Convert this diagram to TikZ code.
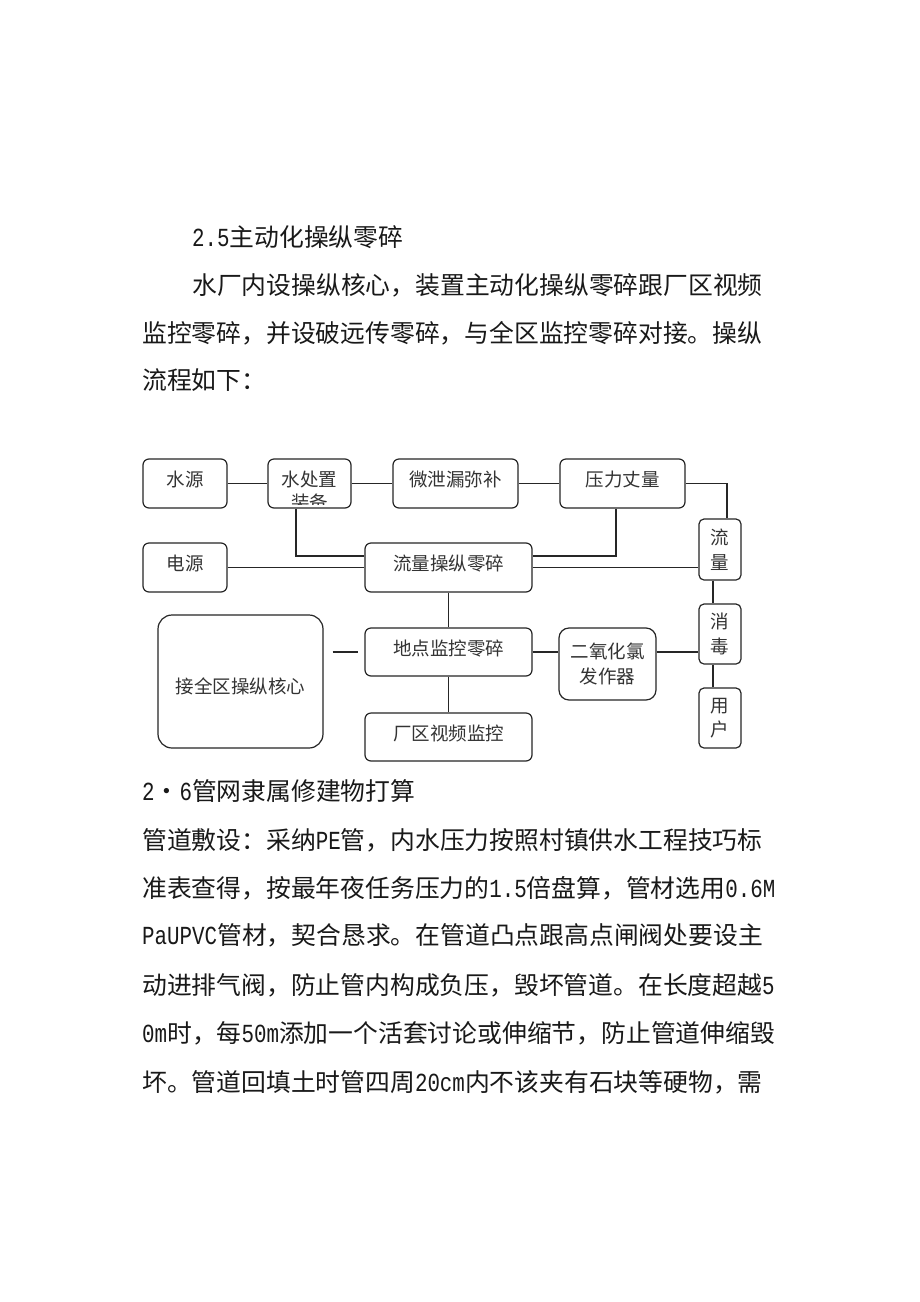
\documentclass[tikz,border=0pt]{standalone}
\usepackage{fontspec}
\setmainfont{Noto Sans CJK SC}
\newfontfamily\hwfont{Liberation Mono}[Scale=1.05,FakeStretch=0.8]
\newcommand{\hw}[1]{{\hwfont #1}}
\usetikzlibrary{positioning}

\begin{document}
\begin{tikzpicture}[x=1pt, y=-1pt,
    body/.style={anchor=base west, inner sep=0pt, font=\fontsize{24.8}{30}\selectfont, text=black!90},
    unit/.style={draw=black!85, line width=1.2pt, rounded corners=6pt, inner sep=0pt,
      font=\fontsize{18.5}{24.5}\selectfont, text=black!80, text height=13pt, text depth=7pt},
    vunit/.style={draw=black!85, line width=1.2pt, rounded corners=5pt, inner sep=0pt,
      font=\fontsize{18.5}{24.5}\selectfont, text=black!80, align=center},
    link/.style={draw=black!85, line width=1.2pt}]

  % page
  \fill[white] (0,0) rectangle (920,1302);
  \useasboundingbox (0,0) rectangle (920,1302);

  % text above
  \node[body] (t1) at (192,246.4) {\hw{2.5}主动化操纵零碎};
  \node[body] (t2) at (192,294.4) {水厂内设操纵核心，装置主动化操纵零碎跟厂区视频};
  \node[body] (t3) at (142,342.4) {监控零碎，并设破远传零碎，与全区监控零碎对接。操纵};
  \node[body] (t4) at (142,389.4) {流程如下：};

  % boxes
  \node[unit, minimum width=84, minimum height=49] (sy) at (185,483.5) {水源};
  \node[unit, minimum width=83, minimum height=49] (sz) at (309.5,483.5) {水处置};
  \node[unit, minimum width=125, minimum height=49] (wx) at (455.5,483.5) {微泄漏弥补};
  \node[unit, minimum width=125, minimum height=49] (yl) at (622.5,483.5) {压力丈量};
  \node[vunit, minimum width=42, minimum height=61] (ll) at (720,549.5) {流\\量};
  \node[unit, minimum width=84, minimum height=49] (dy) at (185,567.5) {电源};
  \node[unit, minimum width=167, minimum height=49] (lk) at (448.5,567.5) {流量操纵零碎};
  \node[unit, rounded corners=14pt, minimum width=165, minimum height=133,
    text height=26pt, text depth=3pt] (jq) at (240.5,681.5) {接全区操纵核心};
  \node[unit, minimum width=167, minimum height=48] (dd) at (448.5,652) {地点监控零碎};
  \node[unit, minimum width=167, minimum height=48] (cq) at (448.5,737) {厂区视频监控};
  \node[vunit, rounded corners=10pt, minimum width=97, minimum height=72] (eq) at (607.5,664) {二氧化氯\\发作器};
  \node[vunit, minimum width=42, minimum height=60] (xd) at (720,634) {消\\毒};
  \node[vunit, minimum width=42, minimum height=60] (yh) at (720,718) {用\\户};

  % second line of sz, cut off by the box
  \begin{scope}
    \clip ([yshift=4pt]sz.south west) rectangle (sz.north east);
    \node[inner sep=0pt, font=\fontsize{18.5}{24.5}\selectfont, text=black!80,
      text height=13pt, text depth=7pt] (szb) at ([yshift=-22.5pt]sz.center) {装备};
  \end{scope}

  % connectors
  \draw[link] (sy) -- (sz);
  \draw[link] (sz) -- (wx);
  \draw[link] (wx) -- (yl);
  \draw[link] (yl.east) -| ([xshift=7pt]ll.north);
  \draw[link] ([xshift=-13.5pt]sz.south) |- ([yshift=11.5pt]lk.west);
  \draw[link] ([xshift=-6.5pt]yl.south) |- ([yshift=11.5pt]lk.east);
  \draw[link] (dy) -- (lk);
  \draw[link] (lk.east) -- (lk.east -| ll.west);
  \draw[link] (lk) -- (dd);
  \draw[link] (dd) -- (cq);
  \draw[link] (dd.east) -- (dd.east -| eq.west);
  \draw[link] (dd.east -| eq.east) -- (dd.east -| xd.west);
  \draw[link] ([xshift=-7pt]ll.south) -- ([xshift=-7pt]xd.north);
  \draw[link] ([xshift=-7pt]xd.south) -- ([xshift=-7pt]yh.north);
  \coordinate (g1) at (dd.west -| jq.east);
  \draw[link] ([xshift=9pt]g1) -- ([xshift=-6pt]dd.west);

  % text below
  \node[body] (b1) at (142,800.4) {\hw{2}・\hw{6}管网隶属修建物打算};
  \node[body] (b2) at (142,849.4) {管道敷设：采纳\hw{PE}管，内水压力按照村镇供水工程技巧标};
  \node[body] (b3) at (142,897.4) {准表查得，按最年夜任务压力的\hw{1.5}倍盘算，管材选用\hw{0.6M}};
  \node[body] (b4) at (142,944.4) {\hw{PaUPVC}管材，契合恳求。在管道凸点跟高点闸阀处要设主};
  \node[body] (b5) at (142,994.4) {动进排气阀，防止管内构成负压，毁坏管道。在长度超越\hw{5}};
  \node[body] (b6) at (142,1042.4) {\hw{0m}时，每\hw{50m}添加一个活套讨论或伸缩节，防止管道伸缩毁};
  \node[body] (b7) at (142,1091.4) {坏。管道回填土时管四周\hw{20cm}内不该夹有石块等硬物，需};
\end{tikzpicture}
\end{document}
